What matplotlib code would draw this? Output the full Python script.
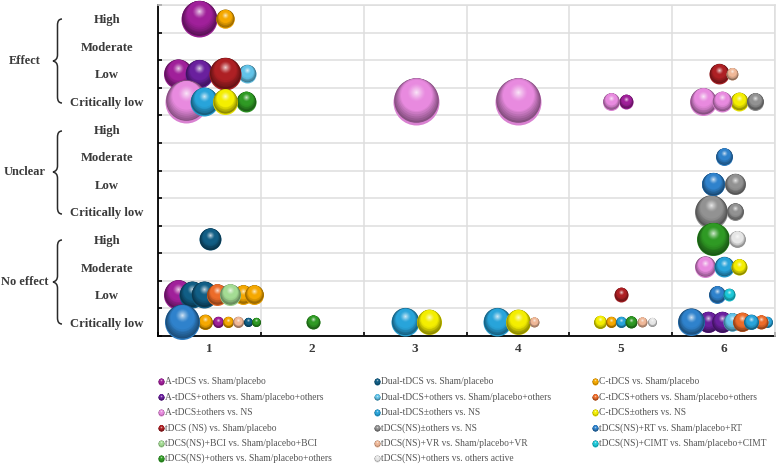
import matplotlib
matplotlib.use("Agg")
import matplotlib.pyplot as plt
from matplotlib.path import Path
from matplotlib.patches import PathPatch
from matplotlib.ticker import FixedLocator, NullFormatter
from matplotlib.colors import to_rgb

plt.rcParams['font.family'] = ['Liberation Serif', 'DejaVu Serif']

# ---------- data ----------
categories = ['1', '2', '3', '4', '5', '6']
row_labels = ['High', 'Moderate', 'Low', 'Critically low'] * 3
groups = ['Effect', 'Unclear', 'No effect']

series_names = [
    'A-tDCS vs. Sham/placebo', 'A-tDCS+others vs. Sham/placebo+others', 'A-tDCS±others vs. NS',
    'tDCS (NS) vs. Sham/placebo', 'tDCS(NS)+BCI vs. Sham/placebo+BCI', 'tDCS(NS)+others vs. Sham/placebo+others',
    'Dual-tDCS vs. Sham/placebo', 'Dual-tDCS+others vs. Sham/placebo+others', 'Dual-tDCS±others vs. NS',
    'tDCS(NS)±others vs. NS', 'tDCS(NS)+VR vs. Sham/placebo+VR', 'tDCS(NS)+others vs. others active',
    'C-tDCS vs. Sham/placebo', 'C-tDCS+others vs. Sham/placebo+others', 'C-tDCS±others vs. NS',
    'tDCS(NS)+RT vs. Sham/placebo+RT', 'tDCS(NS)+CIMT vs. Sham/placebo+CIMT',
]
series_colors = [
    '#A0209A', '#6A209E', '#E88ADF',
    '#AE2024', '#A4DC94', '#2F9A24',
    '#115E85', '#62C3E8', '#28A4DA',
    '#929292', '#F0B898', '#E6E6E6',
    '#F5A800', '#EC6C2A', '#F4EE00',
    '#2F82CC', '#1CC8D8',
]
A, AO, AN, NS, BCI, OTH, D, DO, DN, GN, VR, ACT, C, CO, CN, RT, CIMT = range(17)

bubble_series = [
    A, C,
    A, AO, DO, NS, NS, VR,
    AN, DN, OTH, CN, AN, AN, A, AN, AN, CN, GN, AN,
    RT,
    GN, RT, GN, GN, RT,
    OTH, ACT, D,
    AN, DN, CN,
    A, D, D, C, C, CO, BCI, RT, CIMT, NS,
    C, A, C, VR, D, OTH, RT, OTH, DN, CN, DN, CN, VR, CN, C, DN, OTH, VR, ACT,
    DN, CO, DO, AO, AO, DO, CO, DN, RT,
]
bubble_x = [
    0.40, 0.65,
    0.19, 0.40, 0.87, 0.65, 5.46, 5.58,
    0.27, 0.45, 0.86, 0.65, 2.51, 3.50, 4.55, 4.41, 5.30, 5.65, 5.81, 5.48,
    5.50,
    5.61, 5.40, 5.38, 5.61, 5.40,
    5.40, 5.63, 0.51,
    5.32, 5.50, 5.65,
    0.19, 0.33, 0.45, 0.83, 0.93, 0.57, 0.70, 5.44, 5.55, 4.50,
    0.46, 0.58, 0.68, 0.78, 0.88, 0.95, 0.23, 1.51, 2.40, 2.64, 3.30, 3.50, 3.66, 4.30, 4.41, 4.50, 4.60, 4.71, 4.80,
    5.92, 5.86, 5.58, 5.35, 5.48, 5.58, 5.68, 5.77, 5.18,
]
bubble_row = [
    0, 0,
    2, 2, 2, 2, 2, 2,
    3, 3, 3, 3, 3, 3, 3, 3, 3, 3, 3, 3,
    5,
    6, 6, 7, 7, 6,
    8, 8, 8,
    9, 9, 9,
    10, 10, 10, 10, 10, 10, 10, 10, 10, 10,
    11, 11, 11, 11, 11, 11, 11, 11, 11, 11, 11, 11, 11, 11, 11, 11, 11, 11, 11,
    11, 11, 11, 11, 11, 11, 11, 11, 11,
]
bubble_size = [
    36, 18.5,
    29, 28, 18, 32, 20, 12,
    42, 28, 20, 25, 46, 46, 14, 17, 27, 18, 17, 20,
    17,
    21, 23, 33, 17, 23,
    33, 17, 22,
    21, 20, 16,
    29, 26, 26, 19, 19, 21, 21, 17, 12, 14,
    15, 11, 11, 11, 9, 9, 35, 14, 28, 25, 28, 25, 10, 13, 11, 11, 12, 10, 9,
    11, 14, 18, 21, 21, 18, 19, 15, 27,
]


def mix(c1, c2, t):
    return tuple(a + (b - a) * t for a, b in zip(c1, c2))


def sphere(ax, x, y, d, color, z, ux, uy):
    """Shaded ball: d in pixels, ux/uy pixels per data unit."""
    c = to_rgb(color)
    dark = tuple(v * 0.58 for v in c)
    white = (1, 1, 1)
    # pale bottom rim
    ax.scatter([x], [y], s=(d * 0.72) ** 2, color=[mix(dark, c, 0.85)], linewidths=0,
               zorder=z, clip_on=False)
    n = 20
    for i in range(n):
        t = i / (n - 1)
        frac = 0.97 - 0.93 * t
        dd = d * frac
        shift = min(0.21 * d, 0.85 * (d - dd) / 2 + 0.015 * d)
        if t < 0.30:
            col = mix(dark, c, t / 0.30)
        elif t < 0.58:
            col = c
        else:
            col = mix(c, white, ((t - 0.58) / 0.42) ** 1.3 * 0.75)
        ax.scatter([x], [y - shift / uy], s=(dd * 0.72) ** 2, color=[col], linewidths=0,
                   zorder=z + (i + 1) / (n + 1), clip_on=False)


W, H = 778, 465
fig = plt.figure(figsize=(W / 100, H / 100), dpi=100, facecolor='white')
L, R, T, B = 158, 775, 5, 336
ax = fig.add_axes([L / W, 1 - B / H, (R - L) / W, (B - T) / H])
ax.set_xlim(0, 6)
ax.set_ylim(12, 0)
ux, uy = (R - L) / 6, (B - T) / 12

ax.xaxis.set_major_locator(FixedLocator(range(7)))
ax.yaxis.set_major_locator(FixedLocator(range(13)))
ax.xaxis.set_major_formatter(NullFormatter())
ax.yaxis.set_major_formatter(NullFormatter())
ax.set_xticks([i + 0.5 for i in range(6)], categories, minor=True,
              fontsize=9.5, fontweight='bold', color='#3A3A3A')
ax.set_yticks([i + 0.5 for i in range(12)], row_labels, minor=True,
              fontsize=9.1, fontweight='bold', color='#3A3A3A', ha='center')
ax.tick_params(axis='both', which='minor', length=0)
ax.tick_params(axis='x', which='minor', pad=5)
ax.tick_params(axis='y', which='minor', pad=36.7)
ax.tick_params(axis='both', which='major', direction='in', length=3, width=1.2, color='black')
ax.grid(True, which='major', color='#DEDEDE', linewidth=1.1, zorder=0)
ax.set_axisbelow(True)
for s in ('top', 'right'):
    ax.spines[s].set_color('#DEDEDE')
    ax.spines[s].set_linewidth(1.1)
for s in ('left', 'bottom'):
    ax.spines[s].set_color('black')
    ax.spines[s].set_linewidth(1.3)
    ax.spines[s].set_zorder(1.5)

for i, (si, x, r, d) in enumerate(zip(bubble_series, bubble_x, bubble_row, bubble_size)):
    sphere(ax, x, r + 0.5, d, series_colors[si], 3 + i, ux, uy)

# overlay in pixel units: legend, group labels, braces
ov = fig.add_axes([0, 0, 1, 1], zorder=-1)
ov.set_xlim(0, W)
ov.set_ylim(H, 0)
ov.axis('off')
ax.patch.set_alpha(0)

col_x = [161, 377, 595]
row_y = [381.5, 397, 412.5, 428, 443.5, 458.5]
col_rows = [6, 6, 5]
k = 0
for cx, nrows in zip(col_x, col_rows):
    for j in range(nrows):
        sphere(ov, cx, row_y[j], 6, series_colors[k], 5, 1, 1)
        ov.text(cx + 4.5, row_y[j], series_names[k], fontsize=6.85, color='#555555',
                va='center', ha='left')
        k += 1


def brace(top, bottom, tip):
    xe, xs, xt = 62, 57.5, 53
    v = [(xe, top), (xs, top), (xs, top + 6),
         (xs, tip - 6), (xs, tip - 1), (xt, tip),
         (xs, tip + 1), (xs, tip + 6),
         (xs, bottom - 6), (xs, bottom), (xe, bottom)]
    c = [Path.MOVETO, Path.CURVE3, Path.CURVE3,
         Path.LINETO, Path.CURVE3, Path.CURVE3,
         Path.CURVE3, Path.CURVE3,
         Path.LINETO, Path.CURVE3, Path.CURVE3]
    ov.add_patch(PathPatch(Path(v, c), fill=False, edgecolor='#2A2A2A', linewidth=1.1))


for name, top, bottom, tip in zip(groups, [19, 131, 240], [103, 214, 324], [61, 172, 282]):
    brace(top, bottom, tip)
    ov.text(25, tip, name, fontsize=8.9, fontweight='bold', color='#3A3A3A', ha='center', va='center')

fig.savefig('out.png', dpi=100)
